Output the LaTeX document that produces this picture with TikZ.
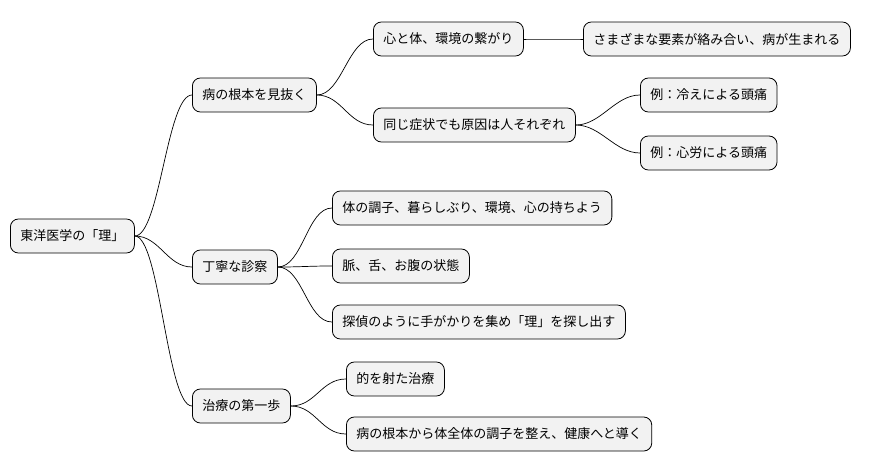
\documentclass[tikz,border=0pt]{standalone}
\usepackage{fontspec}
\setmainfont{Noto Sans CJK JP}
\begin{document}
\begin{tikzpicture}[x=1pt,y=-1pt,
  n/.style={draw=black,line width=0.8pt,fill=gray!10,rounded corners=8pt,anchor=west,
    minimum height=34pt,inner xsep=10pt,font=\fontsize{13}{15}\selectfont},
  c/.style={draw=black,line width=0.7pt}]
\useasboundingbox (0,0) rectangle (880,471);
\node[n] (r) at (10,236) {東洋医学の「理」};
\node[n] (a) at (192,95) {病の根本を見抜く};
\node[n] (a1) at (373,39) {心と体、環境の繋がり};
\node[n] (a11) at (583,39) {さまざまな要素が絡み合い、病が生まれる};
\node[n] (a2) at (373,125) {同じ症状でも原因は人それぞれ};
\node[n] (a21) at (640,95) {例：冷えによる頭痛};
\node[n] (a22) at (640,153) {例：心労による頭痛};
\node[n] (b) at (192,267) {丁寧な診察};
\node[n] (b1) at (332,208) {体の調子、暮らしぶり、環境、心の持ちよう};
\node[n] (b2) at (332,266) {脈、舌、お腹の状態};
\node[n] (b3) at (332,322) {探偵のように手がかりを集め「理」を探し出す};
\node[n] (c) at (192,406) {治療の第一歩};
\node[n] (c1) at (346,379) {的を射た治療};
\node[n] (c2) at (346,434) {病の根本から体全体の調子を整え、健康へと導く};
\foreach \p/\k in {r/a,r/b,r/c,a/a1,a/a2,a1/a11,a2/a21,a2/a22,b/b1,b/b2,b/b3,c/c1,c/c2}
  \draw[c] (\p.east) .. controls +(25,0) and +(-25,0) .. (\k.west);
\end{tikzpicture}
\end{document}
